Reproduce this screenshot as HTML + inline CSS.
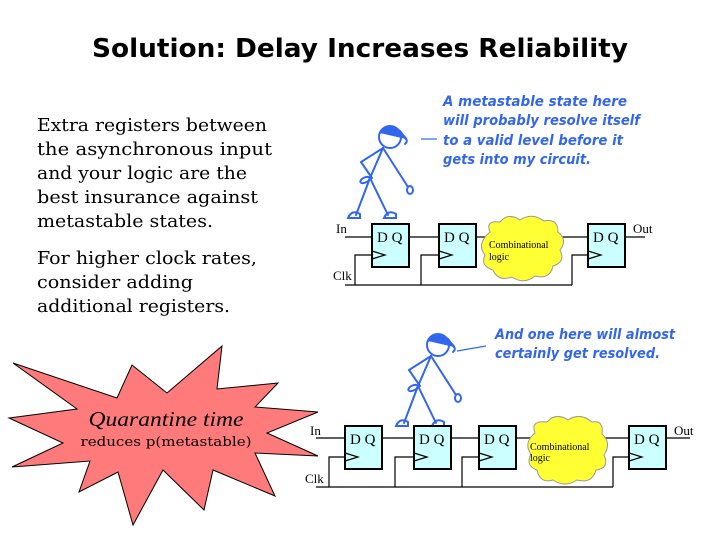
<!DOCTYPE html>
<html><head><meta charset="utf-8"><style>
html,body{margin:0;padding:0;background:#fff;width:720px;height:540px;overflow:hidden}
svg{display:block}
.t{font-family:"DejaVu Serif","Liberation Serif",serif;font-size:18px;fill:#000}
.c{font-family:"DejaVu Sans","Liberation Sans",sans-serif;font-style:italic;font-weight:bold;font-size:14.5px;fill:#3366ee}
.s{font-family:"Liberation Serif",serif;font-size:13px;fill:#000}
.dq{font-family:"Liberation Serif",serif;font-size:15px;fill:#000}
.sm{font-family:"Liberation Serif",serif;font-size:10px;fill:#000}
</style></head><body>
<svg width="720" height="540" viewBox="0 0 720 540" xmlns="http://www.w3.org/2000/svg">
<text x="360" y="57" text-anchor="middle" font-family="DejaVu Sans,sans-serif" font-weight="bold" font-size="26" textLength="536" lengthAdjust="spacingAndGlyphs">Solution: Delay Increases Reliability</text>

<text class="t" x="37" y="131" textLength="230" lengthAdjust="spacingAndGlyphs">Extra registers between</text>
<text class="t" x="37" y="155" textLength="235" lengthAdjust="spacingAndGlyphs">the asynchronous input</text>
<text class="t" x="37" y="179" textLength="210" lengthAdjust="spacingAndGlyphs">and your logic are the</text>
<text class="t" x="37" y="203" textLength="221" lengthAdjust="spacingAndGlyphs">best insurance against</text>
<text class="t" x="37" y="227" textLength="176" lengthAdjust="spacingAndGlyphs">metastable states.</text>
<text class="t" x="37" y="264" textLength="220" lengthAdjust="spacingAndGlyphs">For higher clock rates,</text>
<text class="t" x="37" y="288" textLength="156" lengthAdjust="spacingAndGlyphs">consider adding</text>
<text class="t" x="37" y="312" textLength="193" lengthAdjust="spacingAndGlyphs">additional registers.</text>

<polygon fill="#ff7b7b" stroke="#000" stroke-width="1" points="13,363 77,409 9,418 63,443 12,467 90,461 79,492 118,472 133,525 163,470 204,510 213,470 275,496 255,453 318,456 267,433 318,412 255,407 278,383 217,389 222,346 167,393 132,365 117,398"/>
<text x="166" y="426" text-anchor="middle" font-family="Liberation Serif,serif" font-style="italic" font-size="21" textLength="155" lengthAdjust="spacingAndGlyphs">Quarantine time</text>
<text x="166" y="446" text-anchor="middle" font-family="DejaVu Serif,serif" font-size="13" textLength="171" lengthAdjust="spacingAndGlyphs">reduces p(metastable)</text>

<text class="c" x="443" y="106" textLength="184" lengthAdjust="spacingAndGlyphs">A metastable state here</text>
<text class="c" x="443" y="125" textLength="197" lengthAdjust="spacingAndGlyphs">will probably resolve itself</text>
<text class="c" x="443" y="145" textLength="180" lengthAdjust="spacingAndGlyphs">to a valid level before it</text>
<text class="c" x="443" y="164" textLength="148" lengthAdjust="spacingAndGlyphs">gets into my circuit.</text>
<line x1="421" y1="139" x2="437" y2="139" stroke="#3366ee" stroke-width="1.2"/>
<text class="c" x="495" y="339" textLength="180" lengthAdjust="spacingAndGlyphs">And one here will almost</text>
<text class="c" x="495" y="358" textLength="165" lengthAdjust="spacingAndGlyphs">certainly get resolved.</text>
<line x1="457" y1="351" x2="486" y2="346" stroke="#3366ee" stroke-width="1.2"/>

<defs>
<g id="fig" fill="none" stroke="#3366ee" stroke-width="2" stroke-linecap="round">
<circle cx="390" cy="137" r="11" fill="#fff"/>
<path d="M380,133 Q388,122 400,131 L406,139" fill="#3366ee" stroke-width="2"/>
<path d="M404,136 Q409,141 405,144"/>
<path d="M383,148 L361,162 L372,178"/>
<path d="M383,148 L408,187"/>
<ellipse cx="410" cy="190" rx="3" ry="4"/>
<path d="M383,148 L370,178"/>
<ellipse cx="365" cy="180" rx="5" ry="2.5" transform="rotate(-25 365 180)"/>
<path d="M370,178 L356,215 M370,178 L388,215"/>
<path d="M348,218 Q352,209 360,214 L360,218 Z"/>
<path d="M384,218 Q388,209 396,214 L396,218 Z"/>
</g>
<g id="ff">
<rect x="0" y="0" width="37" height="43" fill="#ccffff" stroke="#000" stroke-width="2"/>
<text class="dq" x="5" y="18">D Q</text>
<polyline points="0,27 13,31 0,35" fill="none" stroke="#000" stroke-width="1.2"/>
</g>
</defs>
<use href="#fig"/>
<use href="#fig" transform="translate(48,208)"/>

<g stroke="#000" stroke-width="1.2" fill="none">
<line x1="345" y1="237" x2="372" y2="237"/>
<line x1="409" y1="237" x2="439" y2="237"/>
<line x1="475" y1="237" x2="490" y2="237"/>
<line x1="560" y1="237" x2="588" y2="237"/>
<line x1="625" y1="237" x2="645" y2="237"/>
<line x1="345" y1="285" x2="572" y2="285"/>
<polyline points="355,285 355,255 372,255"/>
<polyline points="421,285 421,255 439,255"/>
<polyline points="572,285 572,255 588,255"/>
</g>
<use href="#ff" x="372" y="224"/>
<use href="#ff" x="439" y="224"/>
<use href="#ff" x="588" y="224"/>
<path d="M490,232 Q485,220 500,222 Q508,212 520,220 Q532,212 544,221 Q558,218 558,232 Q568,240 560,250 Q566,262 553,266 Q550,280 535,276 Q524,285 512,277 Q498,282 493,270 Q480,266 485,255 Q476,244 490,232 Z" fill="#ffff33" stroke="#999" stroke-width="1"/>
<text class="sm" x="489" y="248">Combinational</text>
<text class="sm" x="489" y="260">logic</text>
<text class="s" x="336" y="233">In</text>
<text class="s" x="633" y="233">Out</text>
<text class="s" x="333" y="280">Clk</text>

<g stroke="#000" stroke-width="1.2" fill="none">
<line x1="316" y1="438" x2="345" y2="438"/>
<line x1="382" y1="438" x2="414" y2="438"/>
<line x1="451" y1="438" x2="479" y2="438"/>
<line x1="517" y1="438" x2="535" y2="438"/>
<line x1="600" y1="438" x2="629" y2="438"/>
<line x1="667" y1="438" x2="690" y2="438"/>
<line x1="316" y1="487" x2="613" y2="487"/>
<polyline points="329,487 329,457 345,457"/>
<polyline points="395,487 395,457 414,457"/>
<polyline points="462,487 462,457 479,457"/>
<polyline points="613,487 613,457 629,457"/>
</g>
<use href="#ff" x="345" y="426"/>
<use href="#ff" x="414" y="426"/>
<use href="#ff" x="479" y="426"/>
<use href="#ff" x="629" y="426"/>
<path d="M535,433 Q530,420 547,422 Q556,412 568,420 Q580,412 592,422 Q604,420 602,434 Q612,443 604,455 Q610,468 596,470 Q592,484 577,480 Q565,488 553,480 Q540,484 537,470 Q525,466 531,454 Q523,443 535,433 Z" fill="#ffff33" stroke="#999" stroke-width="1"/>
<text class="sm" x="530" y="450">Combinational</text>
<text class="sm" x="530" y="461">logic</text>
<text class="s" x="310" y="435">In</text>
<text class="s" x="674" y="435">Out</text>
<text class="s" x="305" y="483">Clk</text>
</svg>
</body></html>
